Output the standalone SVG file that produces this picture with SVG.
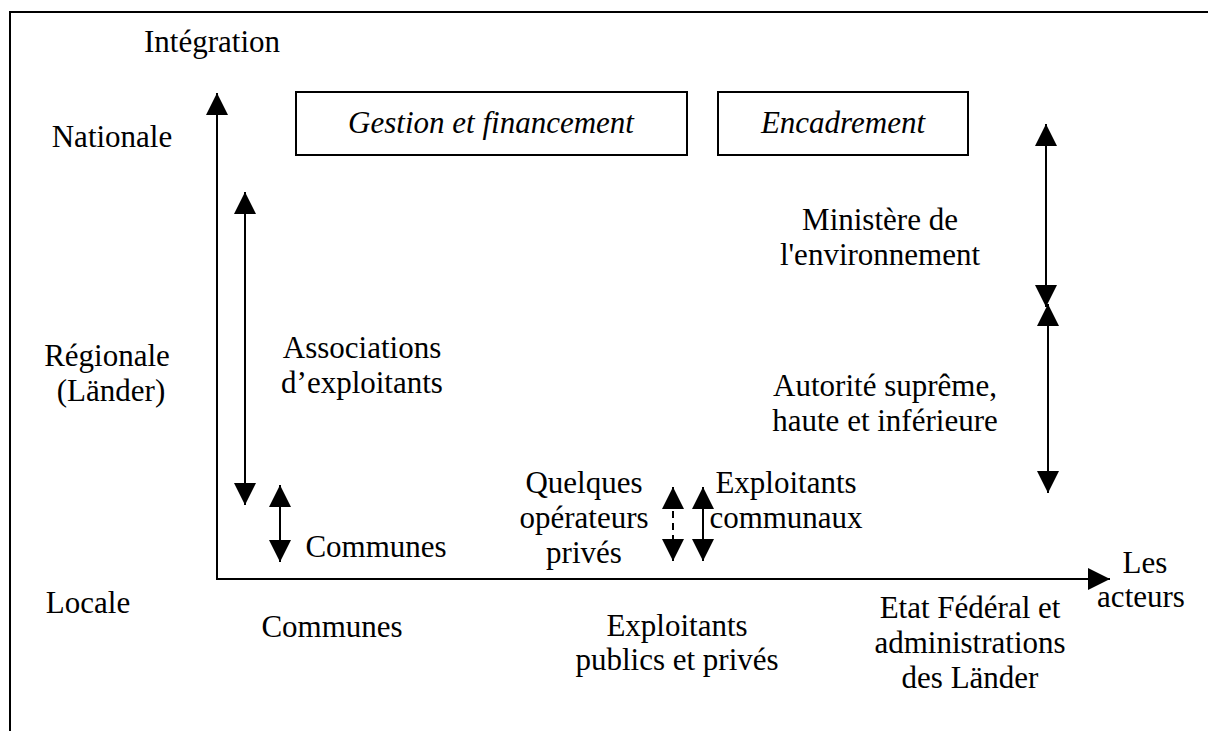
<svg xmlns="http://www.w3.org/2000/svg" width="1208" height="731" viewBox="0 0 1208 731">
  <style>
    text { font-family: "Liberation Serif", "Times New Roman", serif; font-size: 31px; fill: #000; }
    .c { text-anchor: middle; }
    .it { font-style: italic; }
    .box { fill: #fff; stroke: #000; stroke-width: 2; }
    .ln { stroke: #000; stroke-width: 2; fill: none; }
    .dash { stroke-dasharray: 7 5; }
  </style>
  <defs>
    <marker id="ah" viewBox="0 0 22 22" refX="22" refY="11" markerWidth="22" markerHeight="22" markerUnits="userSpaceOnUse" orient="auto-start-reverse">
      <path d="M0,0 L22,11 L0,22 Z" fill="#000"/>
    </marker>
  </defs>

  <!-- outer frame (open at right and bottom) -->
  <path class="ln" d="M10,731 L10,12 L1208,12"/>

  <!-- axis labels -->
  <g id="axis-labels">
    <text x="212" y="52" class="c">Intégration</text>
    <text x="112" y="147" class="c">Nationale</text>
    <text x="107" y="366" class="c">Régionale</text>
    <text x="111" y="401" class="c">(Länder)</text>
    <text x="88" y="613" class="c">Locale</text>
    <text x="1145" y="573" class="c">Les</text>
    <text x="1141" y="607" class="c">acteurs</text>
  </g>

  <!-- headings -->
  <g id="gestion">
    <rect class="box" x="296" y="92" width="391" height="63"/>
    <text x="491" y="133" class="c it">Gestion et financement</text>
  </g>
  <g id="encadrement">
    <rect class="box" x="718" y="92" width="250" height="63"/>
    <text x="843" y="133" class="c it">Encadrement</text>
  </g>

  <!-- actors -->
  <g id="ministere">
    <text x="880" y="230" class="c">Ministère de</text>
    <text x="880" y="265" class="c">l'environnement</text>
  </g>
  <g id="associations">
    <text x="362" y="358" class="c">Associations</text>
    <text x="362" y="393" class="c">d’exploitants</text>
  </g>
  <g id="autorite">
    <text x="885" y="396" class="c">Autorité suprême,</text>
    <text x="885" y="431" class="c">haute et inférieure</text>
  </g>
  <g id="operateurs">
    <text x="584" y="493" class="c">Quelques</text>
    <text x="584" y="528" class="c">opérateurs</text>
    <text x="584" y="563" class="c">privés</text>
  </g>
  <g id="exploitants-communaux">
    <text x="786" y="493" class="c">Exploitants</text>
    <text x="786" y="528" class="c">communaux</text>
  </g>
  <g id="communes-haut">
    <text x="376" y="557" class="c">Communes</text>
  </g>
  <g id="communes-bas">
    <text x="332" y="637" class="c">Communes</text>
  </g>
  <g id="exploitants-publics">
    <text x="677" y="636" class="c">Exploitants</text>
    <text x="677" y="670" class="c">publics et privés</text>
  </g>
  <g id="etat-federal">
    <text x="970" y="618" class="c">Etat Fédéral et</text>
    <text x="970" y="653" class="c">administrations</text>
    <text x="970" y="688" class="c">des Länder</text>
  </g>

  <!-- connectors -->
  <g id="connectors">
    <path class="ln" d="M217,579 L217,93" marker-end="url(#ah)"/>
    <path class="ln" d="M216,579 L1110,579" marker-end="url(#ah)"/>
    <path class="ln" d="M245,192 L245,505" marker-start="url(#ah)" marker-end="url(#ah)"/>
    <path class="ln" d="M280,485 L280,562" marker-start="url(#ah)" marker-end="url(#ah)"/>
    <path class="ln dash" d="M673,487 L673,561" marker-start="url(#ah)" marker-end="url(#ah)"/>
    <path class="ln" d="M703,487 L703,561" marker-start="url(#ah)" marker-end="url(#ah)"/>
    <path class="ln" d="M1046,124 L1046,307" marker-start="url(#ah)" marker-end="url(#ah)"/>
    <path class="ln" d="M1048,304 L1048,493" marker-start="url(#ah)" marker-end="url(#ah)"/>
  </g>
</svg>
